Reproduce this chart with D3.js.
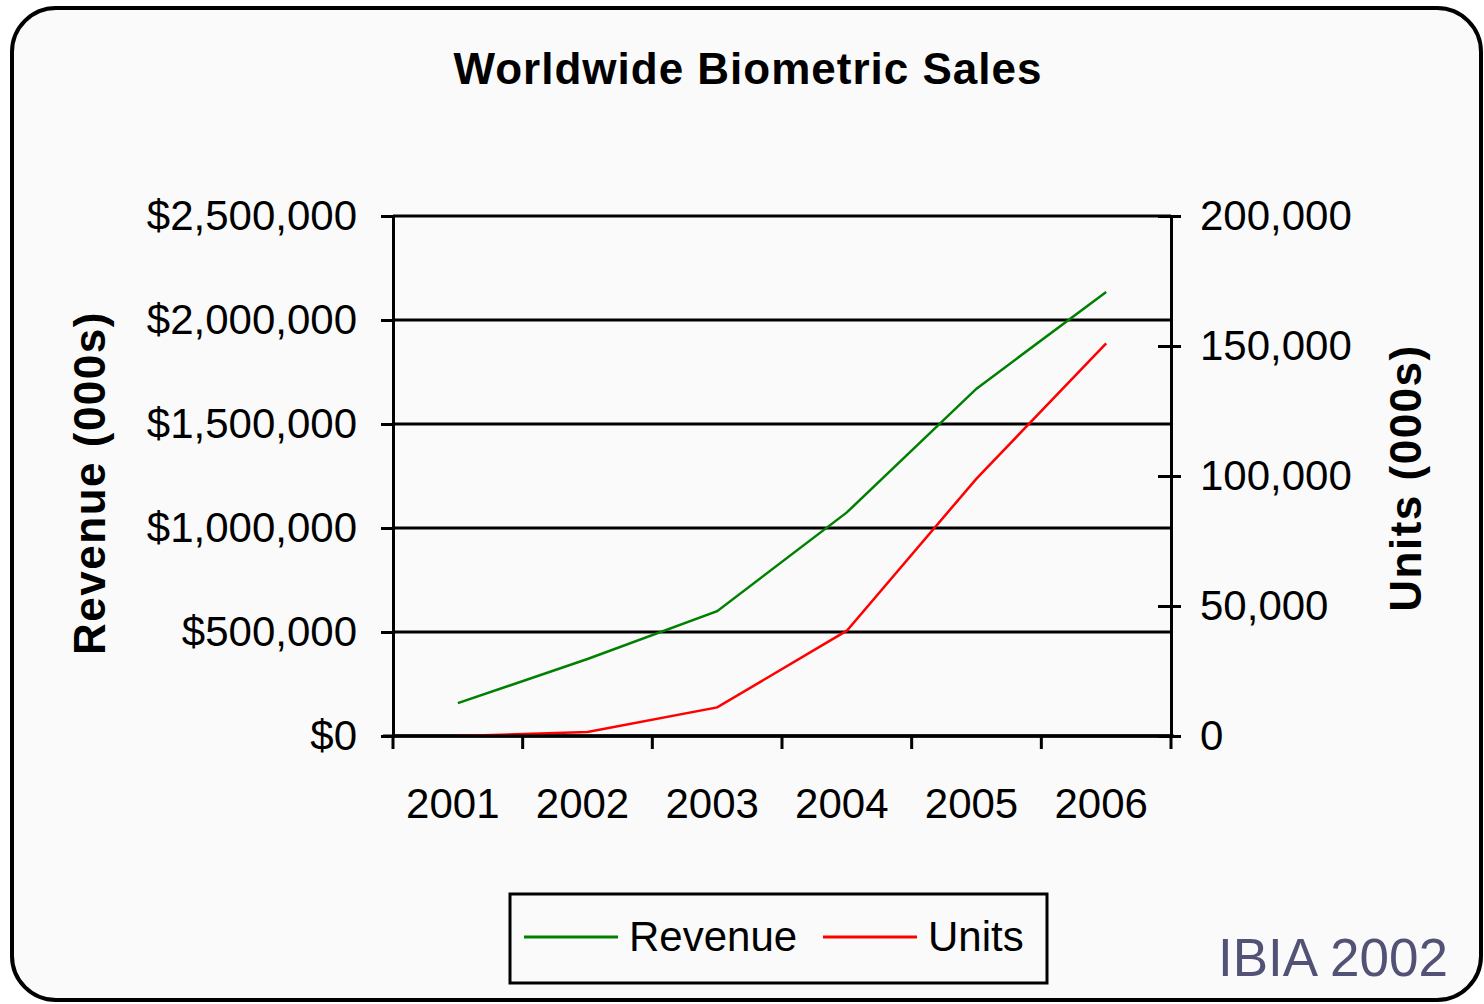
<!DOCTYPE html>
<html>
<head>
<meta charset="utf-8">
<script src="https://cdn.jsdelivr.net/npm/d3@7"></script>
<style>
  html, body { margin: 0; padding: 0; background: #ffffff; }
  svg { display: block; }
  text { font-family: "Liberation Sans", Arial, sans-serif; }
</style>
</head>
<body>
<svg id="chart" width="1484" height="1004"></svg>
<script>
// ---- data ----
const years = ["2001", "2002", "2003", "2004", "2005", "2006"];
const revenue = [158000, 370000, 600000, 1075000, 1670000, 2135000];
const units = [0, 1500, 11000, 40500, 99000, 151000];
const revenueTicks = [0, 500000, 1000000, 1500000, 2000000, 2500000];
const unitTicks = [0, 50000, 100000, 150000, 200000];
const seriesNames = ["Revenue", "Units"];
const seriesColors = ["#008000", "#ff0000"];
const titleText = "Worldwide Biometric Sales";
const leftTitle = "Revenue (000s)";
const rightTitle = "Units (000s)";
const sourceText = "IBIA 2002";

// ---- layout ----
const svg = d3.select("#chart");
const plot = { left: 393, right: 1171, top: 216, bottom: 736 };

// frame
svg.append("rect")
  .attr("x", 12).attr("y", 8)
  .attr("width", 1469).attr("height", 992)
  .attr("rx", 44).attr("ry", 44)
  .attr("fill", "#fafafa")
  .attr("stroke", "#000").attr("stroke-width", 4);

const x = d3.scaleBand().domain(years).range([plot.left, plot.right]).padding(0);
const yL = d3.scaleLinear().domain([0, 2500000]).range([plot.bottom, plot.top]);
const yR = d3.scaleLinear().domain([0, 200000]).range([plot.bottom, plot.top]);

const fmtMoney = v => "$" + d3.format(",")(v);
const fmtNum = d3.format(",");

// title
svg.append("text")
  .attr("x", 748).attr("y", 84)
  .attr("text-anchor", "middle")
  .attr("font-size", 44).attr("font-weight", "bold")
  .attr("letter-spacing", 1)
  .text(titleText);

// gridlines
svg.append("g").selectAll("line")
  .data(revenueTicks)
  .join("line")
  .attr("x1", plot.left).attr("x2", plot.right)
  .attr("y1", d => yL(d)).attr("y2", d => yL(d))
  .attr("stroke", "#000").attr("stroke-width", 3);

// left axis
const gL = svg.append("g").attr("transform", `translate(${plot.left},0)`)
  .call(d3.axisLeft(yL).tickValues(revenueTicks).tickFormat(fmtMoney).tickSize(12).tickPadding(24));
gL.select(".domain").attr("stroke", "#000").attr("stroke-width", 3);
gL.selectAll(".tick line").attr("stroke", "#000").attr("stroke-width", 3);
gL.selectAll(".tick text").attr("font-size", 42).attr("fill", "#000")
  .attr("font-family", "Liberation Sans, Arial, sans-serif");

// right axis
const gR = svg.append("g").attr("transform", `translate(${plot.right},0)`)
  .call(d3.axisRight(yR).tickValues(unitTicks).tickFormat(fmtNum).tickSize(10).tickPadding(19));
gR.select(".domain").attr("stroke", "#000").attr("stroke-width", 3);
gR.selectAll(".tick line").attr("stroke", "#000").attr("stroke-width", 3).attr("x1", -13);
gR.selectAll(".tick text").attr("font-size", 42).attr("fill", "#000")
  .attr("font-family", "Liberation Sans, Arial, sans-serif");

// bottom axis: line, boundary ticks, centered labels
svg.append("line")
  .attr("x1", plot.left - 10).attr("x2", plot.right + 3)
  .attr("y1", plot.bottom).attr("y2", plot.bottom)
  .attr("stroke", "#000").attr("stroke-width", 3);
const boundaries = years.map(y => x(y)).concat([x(years[years.length - 1]) + x.bandwidth()]);
svg.append("g").selectAll("line")
  .data(boundaries)
  .join("line")
  .attr("x1", d => d).attr("x2", d => d)
  .attr("y1", plot.bottom).attr("y2", plot.bottom + 13)
  .attr("stroke", "#000").attr("stroke-width", 3);
svg.append("g").selectAll("text")
  .data(years)
  .join("text")
  .attr("x", d => x(d) + x.bandwidth() / 2 - 5)
  .attr("y", 818)
  .attr("text-anchor", "middle")
  .attr("font-size", 42)
  .text(d => d);

// axis titles
svg.append("text")
  .attr("transform", "translate(105,483) rotate(-90)")
  .attr("text-anchor", "middle")
  .attr("font-size", 44).attr("font-weight", "bold")
  .attr("letter-spacing", 1.5)
  .text(leftTitle);
svg.append("text")
  .attr("transform", "translate(1421,478) rotate(-90)")
  .attr("text-anchor", "middle")
  .attr("font-size", 44).attr("font-weight", "bold")
  .attr("letter-spacing", 1.5)
  .text(rightTitle);

// lines
const cx = d => x(d) + x.bandwidth() / 2;
const lineL = d3.line().x((d, i) => cx(years[i])).y(d => yL(d));
const lineR = d3.line().x((d, i) => cx(years[i])).y(d => yR(d));
svg.append("path").datum(units)
  .attr("d", lineR).attr("fill", "none")
  .attr("stroke", seriesColors[1]).attr("stroke-width", 2.5);
// redraw the x axis over the red series so the zero segment hides under it
svg.append("line")
  .attr("x1", plot.left).attr("x2", plot.right)
  .attr("y1", plot.bottom).attr("y2", plot.bottom)
  .attr("stroke", "#000").attr("stroke-width", 3);
svg.append("path").datum(revenue)
  .attr("d", lineL).attr("fill", "none")
  .attr("stroke", seriesColors[0]).attr("stroke-width", 2.5);

// legend
const lg = svg.append("g");
lg.append("rect")
  .attr("x", 510).attr("y", 894).attr("width", 537).attr("height", 89)
  .attr("fill", "none").attr("stroke", "#000").attr("stroke-width", 3);
const legendItems = [
  { name: seriesNames[0], color: seriesColors[0], x0: 524 },
  { name: seriesNames[1], color: seriesColors[1], x0: 823 }
];
const li = lg.selectAll("g.item").data(legendItems).join("g").attr("class", "item");
li.append("line")
  .attr("x1", d => d.x0).attr("x2", d => d.x0 + 94)
  .attr("y1", 937).attr("y2", 937)
  .attr("stroke", d => d.color).attr("stroke-width", 3);
li.append("text")
  .attr("x", d => d.x0 + 105).attr("y", 951)
  .attr("font-size", 42)
  .text(d => d.name);

// source
svg.append("text")
  .attr("x", 1218).attr("y", 976)
  .attr("font-size", 53)
  .attr("fill", "#525276")
  .text(sourceText);
</script>
</body>
</html>
